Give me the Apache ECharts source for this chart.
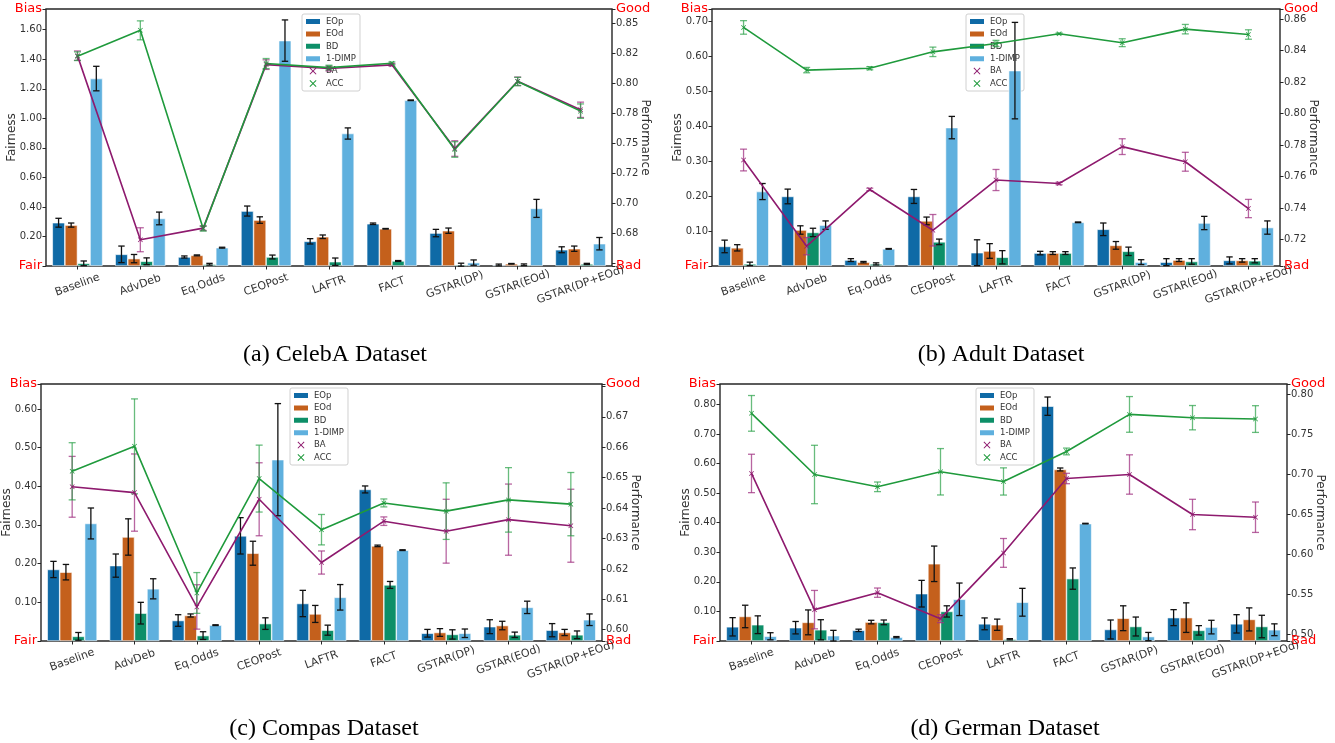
<!DOCTYPE html>
<html>
<head>
<meta charset="utf-8">
<script src="https://cdn.jsdelivr.net/npm/echarts@6/dist/echarts.min.js"></script>
<style>
html,body{margin:0;padding:0;background:#fff;}
#chart{width:1335px;height:743px;}
</style>
</head>
<body>
<div id="chart"></div>
<script>
// ---------------- data ----------------
const categories = ['Baseline','AdvDeb','Eq.Odds','CEOPost','LAFTR','FACT','GSTAR(DP)','GSTAR(EOd)','GSTAR(DP+EOd)'];
const barNames = ['EOp','EOd','BD','1-DIMP'];
const lineNames = ['BA','ACC'];
const titles = ['(a) CelebA Dataset','(b) Adult Dataset','(c) Compas Dataset','(d) German Dataset'];

// (a) CelebA
const celebaEOp     = [0.293, 0.079, 0.061, 0.372, 0.167, 0.286, 0.223, 0.007, 0.110];
const celebaEOpErr  = [0.030, 0.056, 0.007, 0.034, 0.018, 0.005, 0.025, 0.006, 0.020];
const celebaEOd     = [0.277, 0.050, 0.072, 0.311, 0.198, 0.252, 0.239, 0.015, 0.117];
const celebaEOdErr  = [0.014, 0.028, 0.003, 0.022, 0.012, 0.002, 0.018, 0.002, 0.018];
const celebaBD      = [0.018, 0.032, 0.012, 0.061, 0.029, 0.034, 0.009, 0.008, 0.014];
const celebaBDErr   = [0.016, 0.023, 0.006, 0.013, 0.025, 0.003, 0.010, 0.006, 0.004];
const celebaDIMP    = [1.269, 0.322, 0.124, 1.526, 0.897, 1.122, 0.023, 0.390, 0.151];
const celebaDIMPErr = [0.083, 0.043, 0.003, 0.140, 0.038, 0.002, 0.018, 0.061, 0.042];
const celebaBA      = [0.8233, 0.6697, 0.6794, 0.8158, 0.8125, 0.8156, 0.7458, 0.8019, 0.7781];
const celebaBAErr   = [0.0039, 0.0100, 0.0020, 0.0040, 0.0020, 0.0010, 0.0065, 0.0035, 0.0064];
const celebaACC     = [0.8228, 0.8444, 0.6789, 0.8167, 0.8133, 0.8170, 0.7450, 0.8017, 0.7770];
const celebaACCErr  = [0.0036, 0.0079, 0.0020, 0.0042, 0.0020, 0.0010, 0.0065, 0.0035, 0.0060];

// (b) Adult
const adultEOp      = [0.056, 0.199, 0.017, 0.199, 0.038, 0.037, 0.105, 0.011, 0.016];
const adultEOpErr   = [0.018, 0.021, 0.004, 0.020, 0.037, 0.005, 0.018, 0.010, 0.010];
const adultEOd      = [0.052, 0.103, 0.011, 0.129, 0.043, 0.037, 0.059, 0.017, 0.016];
const adultEOdErr   = [0.009, 0.012, 0.002, 0.011, 0.021, 0.004, 0.011, 0.004, 0.005];
const adultBD       = [0.006, 0.096, 0.006, 0.069, 0.025, 0.037, 0.042, 0.013, 0.015];
const adultBDErr    = [0.005, 0.012, 0.003, 0.008, 0.019, 0.004, 0.012, 0.008, 0.006];
const adultDIMP     = [0.213, 0.117, 0.049, 0.396, 0.559, 0.125, 0.011, 0.123, 0.110];
const adultDIMPErr  = [0.023, 0.012, 0.001, 0.032, 0.138, 0.001, 0.007, 0.019, 0.019];
const adultBA       = [0.7705, 0.7158, 0.7518, 0.7259, 0.7578, 0.7556, 0.7790, 0.7694, 0.7397];
const adultBAErr    = [0.0069, 0.0055, 0.0008, 0.0100, 0.0067, 0.0008, 0.0050, 0.0060, 0.0058];
const adultACC      = [0.8547, 0.8276, 0.8288, 0.8392, 0.8445, 0.8507, 0.8450, 0.8536, 0.8502];
const adultACCErr   = [0.0043, 0.0017, 0.0010, 0.0030, 0.0020, 0.0005, 0.0025, 0.0030, 0.0030];

// (c) Compas
const compasEOp     = [0.185, 0.195, 0.053, 0.272, 0.097, 0.392, 0.020, 0.037, 0.028];
const compasEOpErr  = [0.021, 0.030, 0.015, 0.047, 0.034, 0.009, 0.010, 0.018, 0.017];
const compasEOd     = [0.178, 0.269, 0.066, 0.227, 0.070, 0.246, 0.022, 0.040, 0.022];
const compasEOdErr  = [0.020, 0.047, 0.004, 0.031, 0.022, 0.002, 0.010, 0.011, 0.008];
const compasBD      = [0.012, 0.072, 0.014, 0.045, 0.028, 0.145, 0.017, 0.016, 0.016];
const compasBDErr   = [0.010, 0.028, 0.010, 0.015, 0.013, 0.009, 0.012, 0.007, 0.010];
const compasDIMP    = [0.304, 0.135, 0.041, 0.469, 0.113, 0.235, 0.020, 0.087, 0.055];
const compasDIMPErr = [0.040, 0.026, 0.001, 0.145, 0.033, 0.001, 0.011, 0.016, 0.015];
const compasBA      = [0.6470, 0.6451, 0.6075, 0.6429, 0.6221, 0.6357, 0.6324, 0.6362, 0.6342];
const compasBAErr   = [0.0100, 0.0127, 0.0073, 0.0120, 0.0038, 0.0014, 0.0105, 0.0117, 0.0120];
const compasACC     = [0.6521, 0.6603, 0.6121, 0.6497, 0.6329, 0.6417, 0.6390, 0.6427, 0.6413];
const compasACCErr  = [0.0094, 0.0156, 0.0067, 0.0110, 0.0050, 0.0013, 0.0093, 0.0106, 0.0104];

// (d) German
const germanEOp     = [0.048, 0.045, 0.036, 0.160, 0.058, 0.794, 0.039, 0.079, 0.058];
const germanEOpErr  = [0.031, 0.021, 0.004, 0.045, 0.020, 0.031, 0.032, 0.027, 0.031];
const germanEOd     = [0.083, 0.063, 0.064, 0.261, 0.055, 0.580, 0.077, 0.079, 0.073];
const germanEOdErr  = [0.038, 0.042, 0.006, 0.060, 0.019, 0.005, 0.042, 0.050, 0.039];
const germanBD      = [0.055, 0.038, 0.063, 0.100, 0.006, 0.211, 0.049, 0.036, 0.049];
const germanBDErr   = [0.030, 0.034, 0.008, 0.019, 0.002, 0.036, 0.032, 0.016, 0.038];
const germanDIMP    = [0.016, 0.018, 0.013, 0.141, 0.131, 0.397, 0.015, 0.047, 0.038];
const germanDIMPErr = [0.012, 0.018, 0.002, 0.055, 0.047, 0.001, 0.014, 0.023, 0.020];
const germanBA      = [0.7011, 0.5309, 0.5521, 0.5196, 0.6018, 0.6948, 0.6998, 0.6498, 0.6464];
const germanBAErr   = [0.0240, 0.0240, 0.0058, 0.0050, 0.0180, 0.0065, 0.0246, 0.0190, 0.0190];
const germanACC     = [0.7762, 0.6998, 0.6844, 0.7032, 0.6911, 0.7286, 0.7749, 0.7708, 0.7691];
const germanACCErr  = [0.0223, 0.0365, 0.0060, 0.0290, 0.0170, 0.0042, 0.0223, 0.0152, 0.0167];

// axis ranges and tick labels
const celebaLeftTicks  = [0.20, 0.40, 0.60, 0.80, 1.00, 1.20, 1.40, 1.60];
const celebaRightTicks = [0.675, 0.70, 0.725, 0.75, 0.775, 0.80, 0.825, 0.85];
const celebaRightExtraTicks = [0.65];
const adultLeftTicks   = [0.10, 0.20, 0.30, 0.40, 0.50, 0.60, 0.70];
const adultRightTicks  = [0.72, 0.74, 0.76, 0.78, 0.80, 0.82, 0.84, 0.86];
const adultRightExtraTicks = [];
const compasLeftTicks  = [0.10, 0.20, 0.30, 0.40, 0.50, 0.60];
const compasRightTicks = [0.60, 0.61, 0.62, 0.63, 0.64, 0.65, 0.66, 0.67];
const compasRightExtraTicks = [0.68];
const germanLeftTicks  = [0.10, 0.20, 0.30, 0.40, 0.50, 0.60, 0.70, 0.80];
const germanRightTicks = [0.50, 0.55, 0.60, 0.65, 0.70, 0.75, 0.80];
const germanRightExtraTicks = [];

const leftMax  = [1.74, 0.7353, 0.6647, 0.869];
const rightMin = [0.6478, 0.7032, 0.5963, 0.4917];
const rightMax = [0.8622, 0.8664, 0.6808, 0.8129];
const leftWords  = ['Fair', 'Bias'];
const rightWords = ['Bad', 'Good'];

// ---------------- build ----------------
const panels = [
  {bars:[[celebaEOp,celebaEOpErr],[celebaEOd,celebaEOdErr],[celebaBD,celebaBDErr],[celebaDIMP,celebaDIMPErr]],
   lines:[[celebaBA,celebaBAErr],[celebaACC,celebaACCErr]], lt:celebaLeftTicks, rt:celebaRightTicks, rx:celebaRightExtraTicks},
  {bars:[[adultEOp,adultEOpErr],[adultEOd,adultEOdErr],[adultBD,adultBDErr],[adultDIMP,adultDIMPErr]],
   lines:[[adultBA,adultBAErr],[adultACC,adultACCErr]], lt:adultLeftTicks, rt:adultRightTicks, rx:adultRightExtraTicks},
  {bars:[[compasEOp,compasEOpErr],[compasEOd,compasEOdErr],[compasBD,compasBDErr],[compasDIMP,compasDIMPErr]],
   lines:[[compasBA,compasBAErr],[compasACC,compasACCErr]], lt:compasLeftTicks, rt:compasRightTicks, rx:compasRightExtraTicks},
  {bars:[[germanEOp,germanEOpErr],[germanEOd,germanEOdErr],[germanBD,germanBDErr],[germanDIMP,germanDIMPErr]],
   lines:[[germanBA,germanBAErr],[germanACC,germanACCErr]], lt:germanLeftTicks, rt:germanRightTicks, rx:germanRightExtraTicks}
];

const layout = [
  {left:46,  top:9,   width:566, height:257, legendLeft:302, legendTop:14,  titleX:330,  titleY:338},
  {left:712, top:9,   width:568, height:257, legendLeft:966, legendTop:14,  titleX:996,  titleY:338},
  {left:35,  top:384, width:567, height:257, legendLeft:290, legendTop:388, titleX:319,  titleY:712},
  {left:720, top:384, width:567, height:257, legendLeft:976, legendTop:388, titleX:1000, titleY:712}
];

const barColors  = ['#0f6aa6', '#c4601c', '#0d8f68', '#5fb0de'];
const lineColors = ['#8e1a6e', '#1f9a3c'];
const lineErrColors = ['rgba(160,50,130,0.75)', 'rgba(40,160,70,0.7)'];
const FONT = 'DejaVu Sans';
const XPATH = 'path://M0,1 L1,0 L5,4 L9,0 L10,1 L6,5 L10,9 L9,10 L5,6 L1,10 L0,9 L4,5 Z';
const near = (a,b) => Math.abs(a-b) < 1e-9;

function errRender(offsetIndex, nBars, color, cap, lw) {
  return function (params, api) {
    const ci = api.value(0);
    const p1 = api.coord([ci, api.value(1)]);
    const p2 = api.coord([ci, api.value(2)]);
    const band = api.size([1, 0])[0];
    const x = offsetIndex === null ? p1[0] : p1[0] + (offsetIndex - (nBars - 1) / 2) * band * 0.2;
    const st = {stroke: color, lineWidth: lw};
    return {type: 'group', children: [
      {type: 'line', shape: {x1: x, y1: p1[1], x2: x, y2: p2[1]}, style: st},
      {type: 'line', shape: {x1: x - cap, y1: p1[1], x2: x + cap, y2: p1[1]}, style: st},
      {type: 'line', shape: {x1: x - cap, y1: p2[1], x2: x + cap, y2: p2[1]}, style: st}
    ]};
  };
}

function numericAxis(k, pos, min, max, labels, ticks, name) {
  return {type: 'value', gridIndex: k, position: pos, min: min, max: max,
    splitLine: {show: false}, axisLine: {show: false},
    axisTick: {show: true, length: 3.5, customValues: ticks, lineStyle: {color: '#262626'}},
    axisLabel: {customValues: labels, fontSize: 10, fontFamily: FONT, color: '#333', margin: 4,
      formatter: v => v.toFixed(2)},
    name: name, nameLocation: 'middle', nameGap: pos === 'left' ? 28 : 27,
    nameRotate: pos === 'left' ? 90 : -90, nameMoveOverlap: false,
    nameTextStyle: {fontSize: 12, fontFamily: FONT, color: '#333'}
  };
}
function wordAxis(k, pos, min, max, words) {
  return {type: 'value', gridIndex: k, position: pos, min: min, max: max,
    splitLine: {show: false}, axisLine: {show: false}, axisTick: {show: false},
    axisLabel: {customValues: [min, max], showMinLabel: true, showMaxLabel: true,
      fontSize: 13, fontFamily: FONT, color: '#ff0000', margin: 4,
      formatter: v => near(v, min) ? words[0] : words[1]}
  };
}

const grids = [], xAxes = [], yAxes = [], series = [], legends = [], titleComps = [];

panels.forEach((p, k) => {
  const L = layout[k];
  grids.push({left: L.left, top: L.top, width: L.width, height: L.height, show: true,
              borderColor: '#262626', borderWidth: 1.4, backgroundColor: 'transparent', containLabel: false});
  xAxes.push({type: 'category', gridIndex: k, data: categories,
    axisLine: {show: false},
    axisTick: {show: true, alignWithLabel: true, length: 3.5, lineStyle: {color: '#262626', width: 1}},
    axisLabel: {interval: 0, rotate: 20, fontSize: 11, fontFamily: FONT, color: '#333',
                margin: 19, align: 'center', verticalAlign: 'middle'}
  });
  const lmin = 0, lmax = leftMax[k];
  const rmin = rightMin[k], rmax = rightMax[k];
  yAxes.push(numericAxis(k, 'left', lmin, lmax, p.lt, [lmin].concat(p.lt, [lmax]), 'Fairness'));       // 4k
  yAxes.push(numericAxis(k, 'right', rmin, rmax, p.rt, [rmin].concat(p.rt, p.rx, [rmax]), 'Performance')); // 4k+1
  yAxes.push(wordAxis(k, 'left', lmin, lmax, leftWords));    // 4k+2
  yAxes.push(wordAxis(k, 'right', rmin, rmax, rightWords));  // 4k+3

  p.bars.forEach((b, j) => {
    series.push({type: 'bar', name: barNames[j], xAxisIndex: k, yAxisIndex: 4 * k,
      data: b[0], barWidth: '20%', barGap: '0%', z: 2,
      itemStyle: {color: barColors[j], borderColor: '#ffffff', borderWidth: 0.6}});
  });
  p.bars.forEach((b, j) => {
    series.push({type: 'custom', name: barNames[j] + ' err', xAxisIndex: k, yAxisIndex: 4 * k, z: 3,
      renderItem: errRender(j, 4, '#111', 3.2, 1.3),
      data: b[0].map((v, i) => [i, v - b[1][i], v + b[1][i]])});
  });
  p.lines.forEach((l, j) => {
    series.push({type: 'custom', name: lineNames[j] + ' err', xAxisIndex: k, yAxisIndex: 4 * k + 1, z: 4,
      renderItem: errRender(null, 1, lineErrColors[j], 3.5, 1.3),
      data: l[0].map((v, i) => [i, v - l[1][i], v + l[1][i]])});
    series.push({type: 'line', name: lineNames[j], xAxisIndex: k, yAxisIndex: 4 * k + 1, z: 5,
      data: l[0], symbol: XPATH, symbolSize: 5, showSymbol: true,
      lineStyle: {color: lineColors[j], width: 1.6}, itemStyle: {color: lineColors[j]}});
  });

  legends.push({orient: 'vertical', left: L.legendLeft, top: L.legendTop, z: 1,
    data: [
      {name: 'EOp', icon: 'rect'}, {name: 'EOd', icon: 'rect'}, {name: 'BD', icon: 'rect'}, {name: '1-DIMP', icon: 'rect'},
      {name: 'BA', icon: XPATH}, {name: 'ACC', icon: XPATH}
    ],
    itemWidth: 16, itemHeight: 7, itemGap: 3.4, padding: [3, 4, 3, 2],
    backgroundColor: '#ffffff', borderColor: '#d0d0d0', borderWidth: 1, borderRadius: 2,
    textStyle: {fontSize: 8.5, lineHeight: 9, fontFamily: FONT, color: '#333'},
    selectedMode: false
  });
  titleComps.push({text: titles[k], left: L.titleX, top: L.titleY, textAlign: 'center',
    textStyle: {fontFamily: 'Liberation Serif', fontSize: 24, fontWeight: 'normal', color: '#000'}});
});

const chart = echarts.init(document.getElementById('chart'), null, {renderer: 'canvas'});
chart.setOption({
  animation: false,
  backgroundColor: '#ffffff',
  title: titleComps,
  legend: legends,
  grid: grids,
  xAxis: xAxes,
  yAxis: yAxes,
  series: series
});
</script>
</body>
</html>
